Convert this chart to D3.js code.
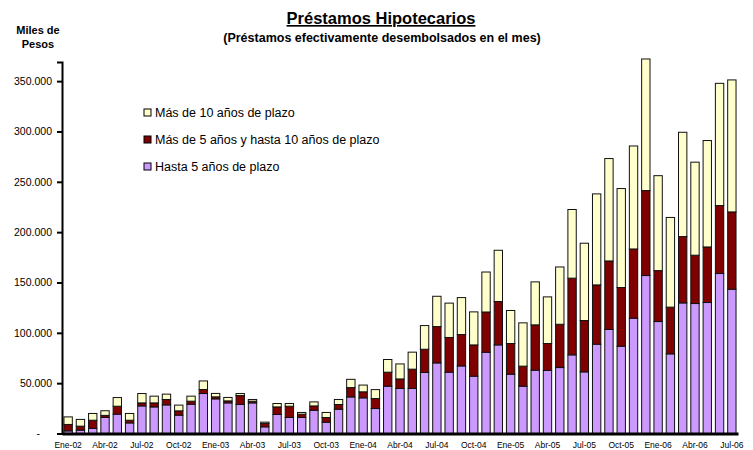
<html>
<head>
<script src="https://d3js.org/d3.v7.min.js"></script>
<style>
  body { margin: 0; background: #fff; }
  text { font-family: Arial, "Liberation Sans", sans-serif; }
</style>
</head>
<body>
<svg id="chart" width="753" height="450"></svg>
<script>
// months Ene-02 .. Jul-06
const meses = ["Ene","Feb","Mar","Abr","May","Jun","Jul","Ago","Sep","Oct","Nov","Dic"];
const months = [];
for (let yr = 2; yr <= 6; yr++) {
  meses.forEach((m, i) => { if (yr < 6 || i < 7) months.push(m + "-0" + yr); });
}
const tickMonths = months.filter((m, i) => i % 3 === 0);

// miles de pesos (thousands)
const hasta5 = [2.6,3.3,5,16,19.2,10.5,27.4,26.4,28.4,18.2,29.1,39.7,34.4,30.4,28.8,30.4,
  6.6,18.9,15.9,15.9,23.1,11.2,24.1,36.3,35.4,24.8,47,44.7,44.7,60.6,70.1,60.9,67.1,56.9,
  80.7,88,58.9,47,62.9,62.6,65.5,78.1,61.2,88.7,103.3,86.7,114.5,156.9,111.2,79.1,129.7,
  129.1,130.1,158.9,143.3];
const de5a10 = [6.4,4,8.2,2,7.9,2.7,3,4,5.4,4.3,3,4,2,2,8.9,1.7,
  3.4,7.5,11.2,3.3,4.3,4.7,4.7,9.3,6,9.9,13.9,9.5,19.2,23.1,36.1,34.5,31.2,31.1,
  40,43.1,30.5,19.9,45,26.8,43,76.2,51,58.9,68.1,58.3,68.8,84.4,50.6,46.4,65.9,
  48,55.2,67.5,76.8];
const mas10 = [7.5,6.7,6.7,4.6,8.6,6.7,9.3,6.7,5.3,5.7,5,8.5,3.4,3.4,2,1.7,
  1.3,3.4,2.7,1.7,4,5,5,8.2,6.7,8.9,12.6,14.9,16.9,23.5,30.1,34.1,36.7,32.8,
  39.7,50.9,32.8,43,42.7,46.3,56.9,68.2,76.8,90.4,101.7,98.3,102.3,130.7,94.3,89.1,103.6,
  92.4,105.7,121.4,131.1];
const series = [
  { key: "hasta5", label: "Hasta 5 años de plazo", color: "#CC99FF", values: hasta5 },
  { key: "de5a10", label: "Más de 5 años y hasta 10 años de plazo", color: "#800000", values: de5a10 },
  { key: "mas10", label: "Más de 10 años de plazo", color: "#FFFFCC", values: mas10 }
];
const yTicks = [0, 50, 100, 150, 200, 250, 300, 350];

const svg = d3.select("#chart");
const mLeft = 62, mRight = 738, mBottom = 433.5, mTop = 62;

const rows = months.map((m, i) => {
  const r = { month: m };
  series.forEach(s => r[s.key] = s.values[i]);
  return r;
});
const stacked = d3.stack().keys(series.map(s => s.key))(rows);

const x = d3.scaleBand().domain(months).range([mLeft, mRight]).paddingInner(0.32).paddingOuter(0.16);
const y = d3.scaleLinear().domain([0, 369]).range([mBottom, mTop]);

// bars
svg.append("g").selectAll("g")
  .data(stacked)
  .join("g")
  .attr("fill", (d, i) => series[i].color)
  .selectAll("rect")
  .data(d => d)
  .join("rect")
  .attr("x", d => x(d.data.month))
  .attr("y", d => y(d[1]))
  .attr("width", x.bandwidth())
  .attr("height", d => y(d[0]) - y(d[1]))
  .attr("stroke", "#111")
  .attr("stroke-width", 1);

// y axis
const loc = d3.formatLocale({ decimal: ",", thousands: ".", grouping: [3], currency: ["$", ""] });
const fmt = loc.format(",.0f");
const yAxis = svg.append("g")
  .attr("transform", `translate(${mLeft},0)`)
  .call(d3.axisLeft(y).tickValues(yTicks).tickSize(5).tickPadding(5)
    .tickFormat(d => d === 0 ? "-" : fmt(d * 1000)));
yAxis.select(".domain").attr("stroke", "#000").attr("stroke-width", 2);
yAxis.selectAll(".tick line").attr("stroke", "#000").attr("stroke-width", 2);
yAxis.selectAll(".tick text").attr("font-size", 10.5).attr("fill", "#000");
yAxis.selectAll(".tick").filter(d => d === 0).select("text").attr("dx", -12);

// x axis
const xAxis = svg.append("g")
  .attr("transform", `translate(0,${mBottom})`)
  .call(d3.axisBottom(x).tickValues(tickMonths).tickSize(0).tickPadding(8.5));
xAxis.select(".domain").attr("stroke", "#000").attr("stroke-width", 3);
xAxis.selectAll(".tick text").attr("font-size", 8.5).attr("fill", "#000");

// titles
svg.append("text").attr("x", 381).attr("y", 24).attr("text-anchor", "middle")
  .attr("font-size", 16.5).attr("font-weight", "bold").attr("text-decoration", "underline")
  .text("Préstamos Hipotecarios");
svg.append("text").attr("x", 382).attr("y", 41.5).attr("text-anchor", "middle")
  .attr("font-size", 12.5).attr("font-weight", "bold")
  .text("(Préstamos efectivamente desembolsados en el mes)");
svg.append("text").attr("x", 38).attr("y", 33.5).attr("text-anchor", "middle")
  .attr("font-size", 11).attr("font-weight", "bold").text("Miles de");
svg.append("text").attr("x", 38).attr("y", 47.5).attr("text-anchor", "middle")
  .attr("font-size", 11).attr("font-weight", "bold").text("Pesos");

// legend
const legend = svg.append("g").selectAll("g")
  .data(series.slice().reverse())
  .join("g")
  .attr("transform", (d, i) => `translate(144,${109 + i * 27})`);
legend.append("rect").attr("width", 7).attr("height", 7)
  .attr("fill", d => d.color).attr("stroke", "#000").attr("stroke-width", 1);
legend.append("text").attr("x", 11).attr("y", 8).attr("font-size", 12.5)
  .text(d => d.label);
</script>
</body>
</html>
